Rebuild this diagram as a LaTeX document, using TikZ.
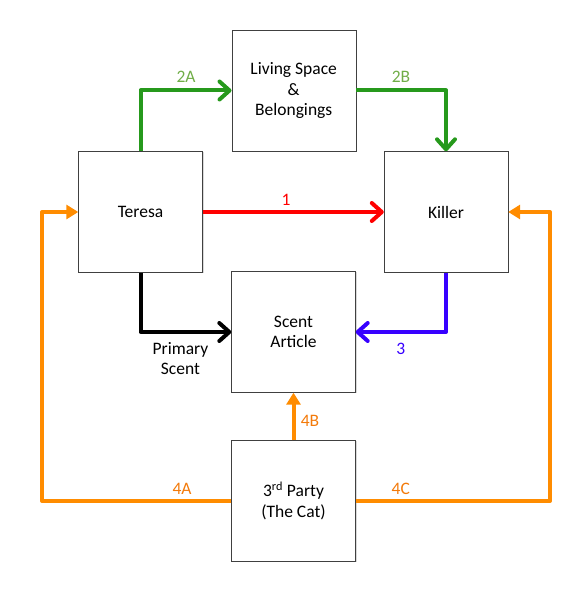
\documentclass[tikz,border=0pt]{standalone}
\usepackage{fontspec}
\setmainfont{Carlito}
\usepackage{tikz}
\usepackage{xcolor}
\usetikzlibrary{arrows.meta,shadows}

\definecolor{linkgreen}{RGB}{38,153,28}
\definecolor{labgreen}{RGB}{112,173,71}
\definecolor{linkblue}{RGB}{55,0,255}
\definecolor{feedorange}{RGB}{255,140,0}
\definecolor{laborange}{RGB}{243,122,10}

\begin{document}
\begin{tikzpicture}[x=1pt,y=1pt,
  box/.style={draw=black!75, fill=white, minimum width=124pt, minimum height=121pt, inner sep=0pt, align=center, font=\fontsize{17.5}{20.5}\selectfont, drop shadow={shadow xshift=1pt,shadow yshift=-1pt,opacity=0.3}},
  lab/.style={font=\fontsize{17.5}{20}\selectfont, align=center},
  link/.style={line width=4pt, line join=round, -{Straight Barb[length=10pt,width=18pt,round]}},
  feed/.style={line width=4pt, line join=round, draw=feedorange, -{Triangle[length=12pt,width=14pt]}}]
\useasboundingbox (0,0) rectangle (587,598);

\node[box] (living) at (293.7,507.5) {Living Space\\\&\\Belongings};
\node[box] (teresa) at (140.5,386) {Teresa};
\node[box] (killer) at (446,386) {Killer};
\node[box] (scent) at (293.5,266) {Scent\\Article};
\node[box] (party) at (293.5,97) {3\textsuperscript{rd} Party\\(The Cat)};

\coordinate (leftrail) at (42,386);
\coordinate (rightrail) at (550,386);

% direct paths
\draw[link, red] (teresa) -- node[lab, pos=0.46, above=1pt] (lab1) {1} (killer);
\draw[link, linkgreen] (teresa.north) |- node[lab, pos=0.75, above=3pt, text=labgreen] (lab2a) {2A} (living.west);
\draw[link, linkgreen] (living.east) -| node[lab, pos=0.25, above=3pt, text=labgreen] (lab2b) {2B} (killer.north);
\draw[link, black] (teresa.south) |- node[lab, pos=0.72, below=5pt] (labprim) {Primary\\Scent} (scent.west);
\draw[link, linkblue] (killer.south) |- node[lab, pos=0.75, below=6pt] (lab3) {3} (scent.east);

% third party
\draw[feed] (party.north) -- node[lab, pos=0.4, right=2pt, text=laborange] (lab4b) {4B} (scent.south);
\draw[feed] (party.west) -| node[lab, pos=0.13, above=1pt, text=laborange] (lab4a) {4A} (leftrail) -- (teresa.west);
\draw[feed] (party.east) -| node[lab, pos=0.116, above=1pt, text=laborange] (lab4c) {4C} (rightrail) -- (killer.east);
\end{tikzpicture}
\end{document}
